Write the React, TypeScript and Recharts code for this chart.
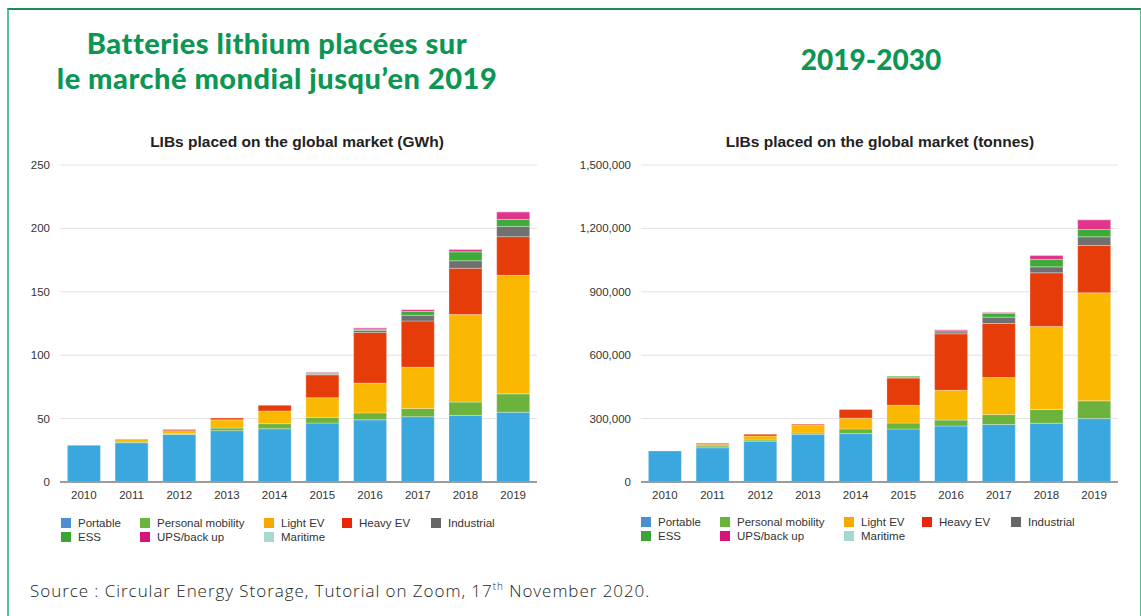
import React from "react"
import { Bar, BarChart, CartesianGrid, XAxis, YAxis } from "recharts"

const years = ["2010", "2011", "2012", "2013", "2014", "2015", "2016", "2017", "2018", "2019"]

// GWh
const gwhPortable = [29, 31, 37.5, 40.5, 42, 46.5, 49, 51.5, 52.5, 55]
const gwhPersonal = [0, 0.5, 0.5, 2, 4, 4.5, 5.5, 6.5, 10.5, 14.5]
const gwhLightEV = [0, 2, 2.5, 6.5, 10, 15.5, 23.5, 32.5, 69, 93.5]
const gwhHeavyEV = [0, 0.5, 1, 1.5, 4.5, 18, 40, 36.5, 36.5, 30.5]
const gwhIndustrial = [0, 0, 0, 0, 0, 0.5, 1.5, 4.5, 6, 8]
const gwhESS = [0, 0, 0, 0, 0, 0.5, 1, 3, 7, 5.5]
const gwhUPS = [0, 0, 0, 0, 0, 1, 1, 1.5, 2, 6]
const gwhMaritime = [0, 0, 0, 0, 0, 0.5, 0.3, 0.3, 0.3, 0.3]

// tonnes
const tPortable = [147000, 162000, 193000, 226000, 229000, 251000, 265000, 272000, 278000, 300000]
const tPersonal = [0, 8000, 6000, 6000, 22000, 28000, 28000, 47000, 65000, 84000]
const tLightEV = [0, 9000, 19000, 35000, 51000, 84000, 141000, 175000, 393000, 511000]
const tHeavyEV = [0, 4000, 8000, 6000, 41000, 129000, 267000, 256000, 254000, 224000]
const tIndustrial = [0, 0, 0, 0, 0, 2000, 9000, 30000, 28000, 41000]
const tESS = [0, 0, 0, 0, 0, 6000, 6000, 17000, 35000, 35000]
const tUPS = [0, 0, 0, 0, 0, 0, 5000, 6000, 20000, 46000]
const tMaritime = [0, 0, 0, 0, 0, 0, 1000, 1000, 1000, 2000]

const gwhTicks = [0, 50, 100, 150, 200, 250]
const tonneTicks = [0, 300000, 600000, 900000, 1200000, 1500000]

const series = [
  { key: "portable", name: "Portable", color: "#3ba7df", legend: "#4a90d0" },
  { key: "personal", name: "Personal mobility", color: "#6cb33e", legend: "#6ab43e" },
  { key: "lightEV", name: "Light EV", color: "#fab800", legend: "#f9a800" },
  { key: "heavyEV", name: "Heavy EV", color: "#e53c0a", legend: "#e8260e" },
  { key: "industrial", name: "Industrial", color: "#707070", legend: "#666666" },
  { key: "ess", name: "ESS", color: "#3dab37", legend: "#3aa535" },
  { key: "ups", name: "UPS/back up", color: "#e0358c", legend: "#d8137a" },
  { key: "maritime", name: "Maritime", color: "#a9dcd4", legend: "#a6d8d0" },
]

const build = (cols: number[][]) =>
  years.map((year, i) => {
    const row: Record<string, string | number> = { year }
    series.forEach((s, j) => (row[s.key] = cols[j][i]))
    return row
  })

const gwhData = build([gwhPortable, gwhPersonal, gwhLightEV, gwhHeavyEV, gwhIndustrial, gwhESS, gwhUPS, gwhMaritime])
const tonneData = build([tPortable, tPersonal, tLightEV, tHeavyEV, tIndustrial, tESS, tUPS, tMaritime])

const tickFont = { fontSize: 11.5, fill: "#333", fontFamily: "Liberation Sans, Arial, sans-serif" }

const StackChart = ({ data, ticks, max, yWidth, width, fmt }: {
  data: Record<string, string | number>[]
  ticks: number[]
  max: number
  yWidth: number
  width: number
  fmt: (v: number) => string
}) => (
  <BarChart width={width} height={362} data={data} margin={{ top: 15, right: 8, bottom: 0, left: 0 }} barCategoryGap="15.5%">
    <CartesianGrid vertical={false} stroke="#e3e3e3" />
    <XAxis dataKey="year" height={30} tick={tickFont} tickLine={false} tickSize={0} tickMargin={9} axisLine={{ stroke: "#9c9c9c", strokeWidth: 2 }} />
    <YAxis width={yWidth} domain={[0, max]} ticks={ticks} tick={tickFont} tickLine={false} tickSize={0} tickMargin={10} axisLine={false} tickFormatter={fmt} />
    {series.map((s) => (
      <Bar key={s.key} dataKey={s.key} stackId="a" fill={s.color} stroke="#ffffff" strokeWidth={0.5} strokeOpacity={0.6} isAnimationActive={false} />
    ))}
  </BarChart>
)

const legendCols = [0, 79, 203, 281, 370]

const Legend = ({ left, top }: { left: number; top: number }) => (
  <div style={{ position: "absolute", left, top }}>
    {series.map((s, i) => {
      const row = i < 5 ? 0 : 1
      const col = i < 5 ? i : i - 5
      return (
        <div key={s.key} style={{ position: "absolute", left: legendCols[col], top: row * 14, display: "flex", alignItems: "center", whiteSpace: "nowrap", height: 12 }}>
          <div style={{ width: 10, height: 10, background: s.legend, marginRight: 7 }} />
          <span style={{ fontSize: 11.5, color: "#333", fontFamily: "Liberation Sans, Arial, sans-serif" }}>{s.name}</span>
        </div>
      )
    })}
  </div>
)

const greenTitle: React.CSSProperties = {
  position: "absolute",
  color: "#0c9653",
  fontFamily: "Lato, sans-serif",
  fontWeight: 900,
  fontSize: 29,
  letterSpacing: 0.5,
  lineHeight: "35px",
  height: 35,
  textAlign: "center",
  whiteSpace: "nowrap",
}

const chartTitle: React.CSSProperties = {
  position: "absolute",
  top: 132,
  fontFamily: "Liberation Sans, Arial, sans-serif",
  fontWeight: 700,
  fontSize: 15.5,
  lineHeight: "20px",
  color: "#222",
  textAlign: "center",
  width: 400,
}

export default function App() {
  return (
    <div style={{ position: "absolute", left: 0, top: 0, width: 1141, height: 616, overflow: "hidden", background: "#fff" }}>
      <div style={{ position: "absolute", left: 7, top: 8, width: 1131, height: 640, borderTop: "2px solid #1e8a57", borderLeft: "2px solid #52c197", borderRight: "2px solid #52c197" }} />
      <div style={{ ...greenTitle, left: 27, top: 25, width: 500 }}>Batteries lithium placées sur</div>
      <div style={{ ...greenTitle, left: 27, top: 60, width: 500 }}>le marché mondial jusqu’en 2019</div>
      <div style={{ ...greenTitle, left: 671, top: 42, width: 400, fontSize: 28, letterSpacing: 0 }}>2019-2030</div>

      <div style={{ ...chartTitle, left: 97 }}>LIBs placed on the global market (GWh)</div>
      <div style={{ ...chartTitle, left: 680 }}>LIBs placed on the global market (tonnes)</div>

      <div style={{ position: "absolute", left: 0, top: 150 }}>
        <StackChart data={gwhData} ticks={gwhTicks} max={250} yWidth={60} width={545} fmt={(v) => String(v)} />
      </div>
      <div style={{ position: "absolute", left: 560, top: 150 }}>
        <StackChart data={tonneData} ticks={tonneTicks} max={1500000} yWidth={81} width={566} fmt={(v) => v.toLocaleString("en-US")} />
      </div>

      <Legend left={61} top={517} />
      <Legend left={641} top={516} />

      <div style={{ position: "absolute", left: 30, top: 579, fontFamily: "Open Sans, sans-serif", fontWeight: 300, fontSize: 17, letterSpacing: 0.95, color: "#222", whiteSpace: "nowrap" }}>
        Source : Circular Energy Storage, Tutorial on Zoom, 17<sup style={{ fontSize: 10 }}>th</sup> November 2020.
      </div>
    </div>
  )
}
